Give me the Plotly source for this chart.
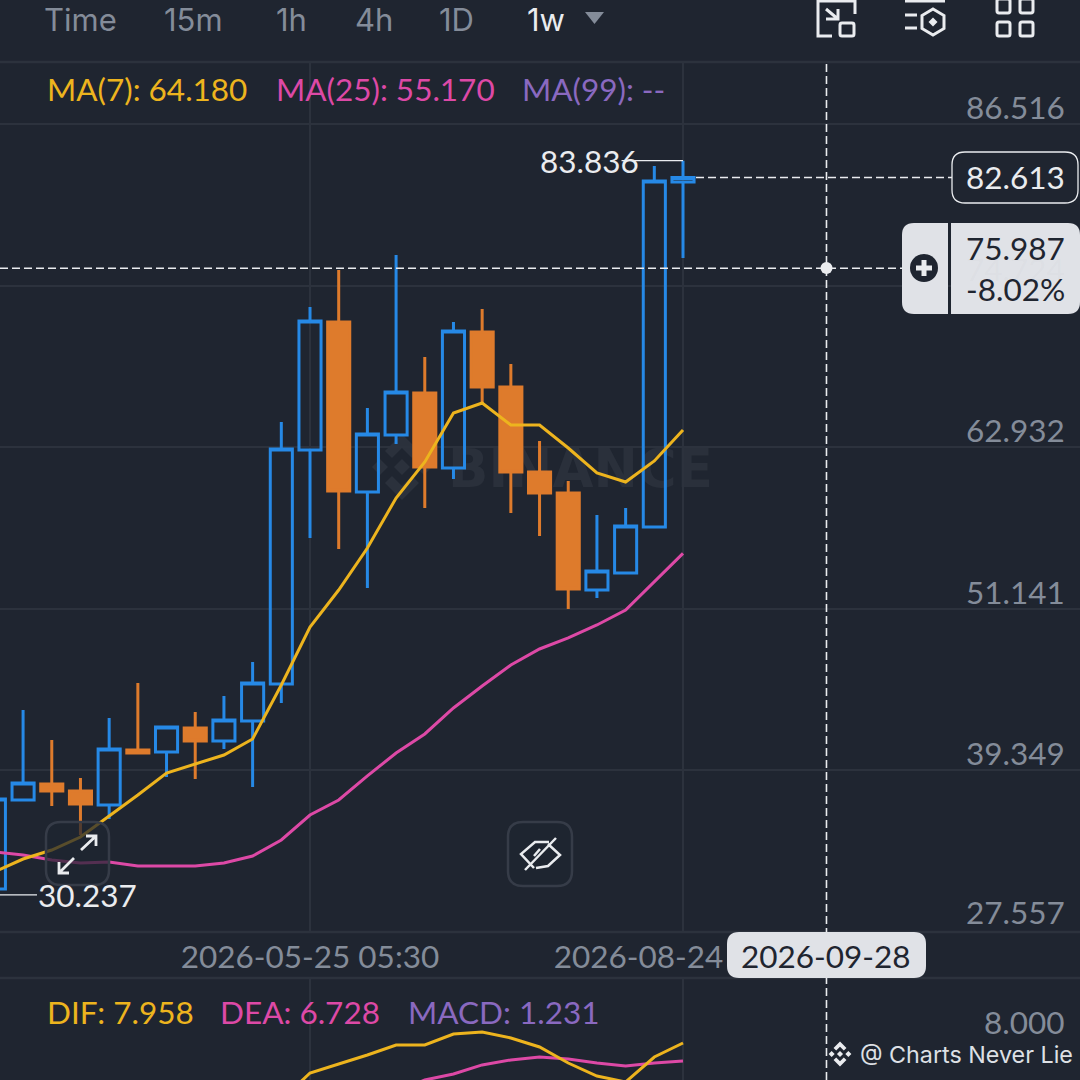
import plotly.graph_objects as go

# ---------- data ----------
DATES = ["2026-03-09","2026-03-16","2026-03-23","2026-03-30","2026-04-06","2026-04-13","2026-04-20",
         "2026-04-27","2026-05-04","2026-05-11","2026-05-18","2026-05-25","2026-06-01","2026-06-08",
         "2026-06-15","2026-06-22","2026-06-29","2026-07-06","2026-07-13","2026-07-20","2026-07-27",
         "2026-08-03","2026-08-10","2026-08-17","2026-08-24"]
OPEN  = [30.663,37.161,38.329,37.818,36.796,40.813,40.667,42.418,41.468,42.929,45.630,62.715,72.060,
         59.648,63.810,66.876,61.400,71.330,67.314,61.108,59.575,52.494,53.735,57.093,82.280]
HIGH  = [37.234,43.732,41.541,38.768,43.148,45.703,42.491,43.586,44.754,47.237,64.759,73.155,75.856,
         65.781,76.951,69.504,72.060,73.009,68.993,63.372,60.451,57.969,58.480,83.449,83.836]
LOW   = [30.237,37.161,36.723,34.605,35.775,40.520,38.841,38.695,40.886,38.110,44.242,56.290,55.487,
         52.640,63.153,58.480,60.598,66.147,58.115,56.436,51.105,51.909,53.735,57.093,76.730]
CLOSE = [37.234,38.402,37.818,36.869,40.886,40.594,42.491,41.468,43.002,45.703,62.788,72.133,59.721,
         63.883,66.949,61.473,71.403,67.314,61.108,59.575,52.567,53.881,57.166,82.354,82.613]
MA7   = [31.904,32.853,33.511,34.460,35.993,37.526,39.133,39.790,40.447,41.615,45.557,49.792,52.493,
         55.559,59.210,61.838,65.416,66.146,64.540,64.540,62.860,61.035,60.378,61.911,64.180]
MA25  = [33.364,33.145,32.780,32.561,32.634,32.342,32.342,32.342,32.561,33.072,34.241,36.066,37.161,
         38.917,40.594,41.981,43.880,45.486,47.018,48.187,48.990,49.939,51.034,53.077,55.170]
DIF   = [4.063,5.909,6.523,7.138,7.821,7.821,8.573,8.709,8.300,7.685,6.592,5.704,5.294,7.002,7.958]
DEA   = [4.61,5.43,5.84,6.46,6.80,7.00,6.87,6.59,6.39,6.59,6.728]
PRICE_TICKS = [86.516,74.724,62.932,51.141,39.349,27.557]
MACD_TICKS = [8.0]
X_TICKS = ["2026-05-25","2026-08-24"]
X_TICK_TEXT = ["2026-05-25 05:30","2026-08-24 05:30"]
INTERVALS = ["Time","15m","1h","4h","1D","1w"]
LAST_PRICE = 82.613
CROSS_PRICE = 75.987
CROSS_PCT = "-8.02%"
CROSS_DATE = "2026-09-28"
MAX_LABEL = 83.836
MIN_LABEL = 30.237

# ---------- style ----------
BG = "#1F2530"; GRID = "#2C323D"; GREY = "#848C99"; WHITE = "#EAECEF"
BLUE = "#2689E6"; ORANGE = "#DE7B2C"; YELLOW = "#EDB41E"; PINK = "#DD49A6"; PURPLE = "#8A69C0"
FONT = "Lato"; FS = 31.5

def X(p): return p / 1080
def Y(p): return 1 - p / 1080
def P(s):
    out, is_x = [], True
    for t in s.split():
        if t.isalpha():
            out.append(t); is_x = True
        else:
            v = float(t)
            out.append(f"{X(v):.5f}" if is_x else f"{Y(v):.5f}")
            is_x = not is_x
    return " ".join(out)
def rr(x0, y0, x1, y1, r):
    return (f"M {x0+r} {y0} L {x1-r} {y0} Q {x1} {y0} {x1} {y0+r} L {x1} {y1-r} Q {x1} {y1} {x1-r} {y1} "
            f"L {x0+r} {y1} Q {x0} {y1} {x0} {y1-r} L {x0} {y0+r} Q {x0} {y0} {x0+r} {y0} Z")

shapes, annos = [], []
def path(s, stroke=None, width=0, fill=None, layer="above"):
    shapes.append(dict(type="path", xref="paper", yref="paper", path=P(s), layer=layer,
                       line=dict(color=stroke or "rgba(0,0,0,0)", width=width),
                       fillcolor=fill or "rgba(0,0,0,0)"))
def text(t, x, y, color, size=FS, anchor="left", font=FONT, weight=None):
    f = dict(family=font, size=size, color=color)
    if weight: f["weight"] = weight
    annos.append(dict(text=t, x=X(x), y=Y(y - 1), xref="paper", yref="paper", showarrow=False,
                      xanchor=anchor, yanchor="middle", font=f, borderpad=0, borderwidth=0))
def tick_label(v, yaxis, shift, color=GREY):
    annos.append(dict(text=f"{v:.3f}", x=X(1065), y=v, xref="paper", yref=yaxis, yshift=shift + 1, showarrow=False,
                      xanchor="right", yanchor="middle", borderpad=0, borderwidth=0,
                      font=dict(family=FONT, size=FS, color=color)))
def diamond(cx, cy, r): return f"M {cx-r} {cy} L {cx} {cy-r} L {cx+r} {cy} L {cx} {cy+r} Z"
def logo(cx, cy, k, color, layer="above"):
    d = " ".join(diamond(cx+a*k, cy+b*k, 8*k) for a, b in [(0,0),(-22,0),(22,0)])
    d += f" M {cx} {cy-33*k} L {cx+17*k} {cy-16*k} L {cx+10*k} {cy-9*k} L {cx} {cy-19*k} L {cx-10*k} {cy-9*k} L {cx-17*k} {cy-16*k} Z"
    d += f" M {cx} {cy+33*k} L {cx+17*k} {cy+16*k} L {cx+10*k} {cy+9*k} L {cx} {cy+19*k} L {cx-10*k} {cy+9*k} L {cx-17*k} {cy+16*k} Z"
    path(d, fill=color, layer=layer)

# ---------- figure ----------
fig = go.Figure()
fig.add_trace(go.Candlestick(x=DATES, open=OPEN, high=HIGH, low=LOW, close=CLOSE, whiskerwidth=0,
    increasing=dict(line=dict(color=BLUE, width=3), fillcolor="rgba(0,0,0,0)"),
    decreasing=dict(line=dict(color=ORANGE, width=3), fillcolor=ORANGE), hoverinfo="skip"))
fig.add_trace(go.Scatter(x=DATES, y=MA25, mode="lines", line=dict(color=PINK, width=3), hoverinfo="skip"))
fig.add_trace(go.Scatter(x=DATES, y=MA7, mode="lines", line=dict(color=YELLOW, width=3), hoverinfo="skip"))
fig.add_trace(go.Scatter(x=DATES[-len(DEA):], y=DEA, mode="lines", line=dict(color=PINK, width=3),
                         xaxis="x2", yaxis="y2", hoverinfo="skip"))
fig.add_trace(go.Scatter(x=DATES[-len(DIF):], y=DIF, mode="lines", line=dict(color=YELLOW, width=3),
                         xaxis="x2", yaxis="y2", hoverinfo="skip"))

# watermark (under the candles)
logo(402, 467, 1.0, "#2B313C", "below")
shapes.append(dict(type="rect", xref="paper", yref="paper", x0=X(445), x1=X(712), y0=Y(486), y1=Y(442), layer="below",
                   line=dict(width=0), fillcolor="rgba(0,0,0,0)",
                   label=dict(text="BINANCE", textposition="middle left", padding=0,
                              font=dict(family="DejaVu Sans", size=53, color="#2A303B", weight=700))))

# separators
for yy in (62, 932, 978):
    shapes.append(dict(type="line", xref="paper", yref="paper", x0=0, x1=1, y0=Y(yy), y1=Y(yy),
                       line=dict(color=GRID, width=2.5), layer="below"))

# toolbar
for label, xx in zip(INTERVALS, [44, 164, 276, 355, 439, 527]):
    text(label, xx, 21, WHITE if label == "1w" else GREY, size=31, font="Inter")
path("M 585 12 L 604 12 L 594.5 24 Z", fill="#848C99")
# icon 1
path("M 832 36 L 818 36 L 818 1 L 855 1 L 855 14", stroke=WHITE, width=3)
path(rr(840, 23, 854, 36, 2), stroke=WHITE, width=3)
path("M 826 9 L 838 19 M 826 19 L 838 19 L 838 9", stroke=WHITE, width=3)
# icon 2
path("M 905 1 L 945 1 M 905 15 L 917 15 M 905 28 L 917 28", stroke=WHITE, width=3)
path("M 933 9 L 944 15.5 L 944 28.5 L 933 35 L 922 28.5 L 922 15.5 Z", stroke=WHITE, width=3)
path(diamond(933, 22, 4.5), fill=WHITE)
# icon 3
for x0 in (997, 1020):
    for y0 in (-1, 22):
        path(rr(x0, y0, x0 + 13, y0 + 14, 2), stroke=WHITE, width=3)

# legends
text(f"MA(7): {MA7[-1]:.3f}", 47, 90, YELLOW)
text(f"MA(25): {MA25[-1]:.3f}", 276, 90, PINK)
text("MA(99): --", 522, 90, PURPLE)
text(f"DIF: {DIF[-1]:.3f}", 47, 1013, YELLOW)
text(f"DEA: {DEA[-1]:.3f}", 220, 1013, PINK)
text("MACD: 1.231", 408, 1013, PURPLE)

# max / min labels
shapes.append(dict(type="line", xref="x", yref="y", x0="2026-08-09", x1=DATES[-1], y0=MAX_LABEL, y1=MAX_LABEL,
                   line=dict(color=WHITE, width=1.2)))
shapes.append(dict(type="line", xref="paper", yref="y", x0=0, x1=X(37), y0=MIN_LABEL, y1=MIN_LABEL,
                   line=dict(color=WHITE, width=1.2)))
text(f"{MAX_LABEL:.3f}", 639, 162, WHITE, anchor="right")
text(f"{MIN_LABEL:.3f}", 38, 896, WHITE)

# expand / eye buttons
path(rr(46, 822, 109, 885, 15), stroke="#363C48", width=2.5, fill="rgba(31,37,48,0.72)")
path("M 81 850 L 96 836 M 86 836 L 96 836 L 96 846 M 74 858 L 59 873 M 59 862 L 59 873 L 69 873", stroke=WHITE, width=2.8)
path(rr(508, 822, 572, 886, 15), stroke="#363C48", width=2.5, fill="rgba(31,37,48,0.72)")
path("M 534 868 L 521 854 L 535 842 L 549 842 M 548 844 L 560 855 L 548 866 L 536 868 M 525 870 L 556 838 M 540 849 L 534 856",
     stroke=WHITE, width=2.5)

# dashed lines
DASH = "8px,4px"
shapes.append(dict(type="line", xref="x", yref="paper", x0=CROSS_DATE, x1=CROSS_DATE, y0=0, y1=Y(64),
                   line=dict(color=WHITE, width=1.6, dash=DASH)))
shapes.append(dict(type="line", xref="paper", yref="y", x0=0, x1=X(905), y0=CROSS_PRICE, y1=CROSS_PRICE,
                   line=dict(color=WHITE, width=1.6, dash=DASH)))
shapes.append(dict(type="line", xref="paper", yref="y", x0=X(696), x1=X(952), y0=LAST_PRICE, y1=LAST_PRICE,
                   line=dict(color=WHITE, width=1.6, dash=DASH)))
shapes.append(dict(type="circle", xref="paper", yref="paper", x0=X(820.5), x1=X(832.5), y0=Y(274), y1=Y(262),
                   fillcolor=WHITE, line=dict(width=0)))

# last price tag
path(rr(952, 152, 1078, 203, 13), stroke=WHITE, width=1.3, fill=BG)
text(f"{LAST_PRICE:.3f}", 1065, 178, WHITE, anchor="right")

# crosshair pill
LIGHT = "#E0E2E7"
path("M 914 223 L 948 223 L 948 314 L 914 314 Q 902 314 902 302 L 902 235 Q 902 223 914 223 Z", fill=LIGHT)
path("M 951 223 L 1068 223 Q 1080 223 1080 235 L 1080 302 Q 1080 314 1068 314 L 951 314 Z", fill=LIGHT)
shapes.append(dict(type="circle", xref="paper", yref="paper", x0=X(910), x1=X(938), y0=Y(282), y1=Y(254),
                   fillcolor="#1F2530", line=dict(width=0)))
path("M 924 260 L 924 276 M 916 268 L 932 268", stroke=WHITE, width=5)

# price axis labels sit just above their grid lines
for v in PRICE_TICKS:
    if v == 74.724:
        tick_label(v, "y", 16, color="rgba(132,140,153,0.05)")
    else:
        tick_label(v, "y", 19 if v == 27.557 else 16)
tick_label(MACD_TICKS[0], "y2", 19)

text(f"{CROSS_PRICE:.3f}", 1065, 249, "#1F2530", anchor="right")
text(CROSS_PCT, 1065, 290, "#1F2530", anchor="right")

# date pill
path(rr(727, 932, 926, 978, 12), fill=LIGHT)
text(CROSS_DATE, 826.5, 957, "#1F2530", anchor="center")

# signature
logo(840, 1054, 0.38, WHITE)
text("@ Charts Never Lie", 860, 1055, "#DDE0E5", size=23.3, font="Inter")

tick_font = dict(family=FONT, size=FS, color=GREY)
fig.update_layout(
    width=1080, height=1080, autosize=False, margin=dict(l=0, r=0, t=0, b=0, pad=0),
    paper_bgcolor=BG, plot_bgcolor=BG, showlegend=False, boxgap=0.23, boxgroupgap=0, hovermode=False,
    shapes=shapes, annotations=annos,
    xaxis=dict(domain=[0, 1], range=["2026-03-10 08:53", "2026-11-28 20:24"], type="date",
               rangeslider=dict(visible=False), tickmode="array", tickvals=X_TICKS, ticktext=X_TICK_TEXT,
               showgrid=True, gridcolor=GRID, gridwidth=1.5, zeroline=False, showline=False,
               ticks="", tickfont=tick_font, anchor="y", ticklabelstandoff=3),
    yaxis=dict(domain=[Y(932), Y(62)], range=[27.524, 91.042], side="right", anchor="x", tickmode="array",
               tickvals=PRICE_TICKS, showticklabels=False, showgrid=True, gridcolor=GRID, gridwidth=1.5,
               zeroline=False, showline=False, ticks=""),
    xaxis2=dict(domain=[0, 1], matches="x", type="date", tickmode="array", tickvals=X_TICKS, showticklabels=False,
                showgrid=True, gridcolor=GRID, gridwidth=1.5, zeroline=False, showline=False, ticks="", anchor="y2"),
    yaxis2=dict(domain=[0, Y(978)], range=[5.431, 12.397], side="right", anchor="x2", tickmode="array",
                tickvals=MACD_TICKS, showticklabels=False, showgrid=False, zeroline=False, showline=False, ticks=""),
)
fig.write_html("out.html", config=dict(displayModeBar=False),
               post_script="document.body.style.margin='0';document.documentElement.style.background='#1F2530';")
